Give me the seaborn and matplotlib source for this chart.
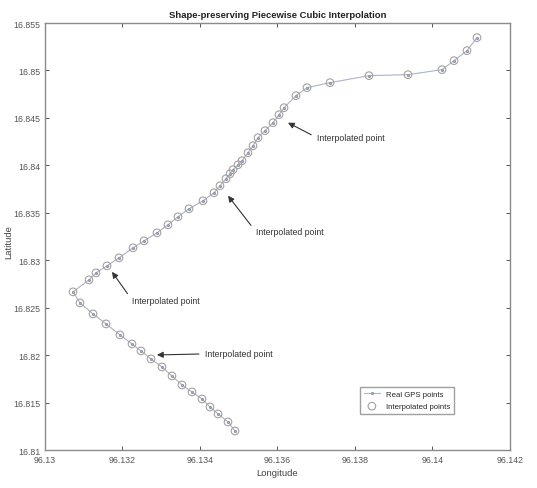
import numpy as np
import pandas as pd
import matplotlib
matplotlib.use("Agg")
import matplotlib.pyplot as plt
import seaborn as sns

sns.set_theme(style="white")
plt.rcParams['font.family'] = ['Liberation Sans Narrow', 'Liberation Sans', 'DejaVu Sans']
plt.rcParams['xtick.direction'] = 'in'
plt.rcParams['ytick.direction'] = 'in'

# GPS track (south end -> apex -> north-east end)
longitude = [96.134903, 96.134723, 96.134465, 96.134258, 96.134052, 96.133794,
             96.133535, 96.133277, 96.133019, 96.132735, 96.132477, 96.132245,
             96.131935, 96.131574, 96.131239, 96.130903, 96.130723,
             96.131135, 96.131316, 96.131600, 96.131910, 96.132271, 96.132555,
             96.132890, 96.133174, 96.133432, 96.133716, 96.134077, 96.134361,
             96.134516, 96.134671, 96.134774, 96.134852, 96.134981, 96.135084,
             96.135239, 96.135368, 96.135497, 96.135677, 96.135884, 96.136039,
             96.136168, 96.136477, 96.136761, 96.137355, 96.138361, 96.139368,
             96.140245, 96.140555, 96.140890, 96.141148]
latitude = [16.812004, 16.812954, 16.813797, 16.814536, 16.815380, 16.816118,
            16.816857, 16.817806, 16.818755, 16.819599, 16.820443, 16.821181,
            16.822131, 16.823291, 16.824346, 16.825506, 16.826667,
            16.827932, 16.828671, 16.829409, 16.830253, 16.831308, 16.832046,
            16.832890, 16.833734, 16.834578, 16.835422, 16.836266, 16.837110,
            16.837848, 16.838586, 16.839114, 16.839536, 16.840063, 16.840485,
            16.841329, 16.842068, 16.842911, 16.843650, 16.844494, 16.845338,
            16.846076, 16.847342, 16.848186, 16.848713, 16.849451, 16.849557,
            16.850084, 16.851034, 16.852089, 16.853460]

# annotations: arrow tip and text anchor
note_tips = [(96.136271, 16.844494), (96.134723, 16.836793),
             (96.131729, 16.828776), (96.132890, 16.820021)]
note_texts = [(96.137019, 16.842911), (96.135445, 16.832996),
              (96.132255, 16.825750), (96.134129, 16.820127)]
note_label = "Interpolated point"

x_ticks = [96.13, 96.132, 96.134, 96.136, 96.138, 96.14, 96.142]
x_tick_labels = ["96.13", "96.132", "96.134", "96.136", "96.138", "96.14", "96.142"]
y_ticks = [16.81, 16.815, 16.82, 16.825, 16.83, 16.835, 16.84, 16.845, 16.85, 16.855]
y_tick_labels = ["16.81", "16.815", "16.82", "16.825", "16.83", "16.835", "16.84",
                 "16.845", "16.85", "16.855"]

track = pd.DataFrame({"lon": longitude, "lat": latitude})

fig = plt.figure(figsize=(5.37, 4.89), dpi=100)
ax = fig.add_axes([0.0838, 0.0777, 0.8659, 0.8732])

sns.lineplot(data=track, x="lon", y="lat", sort=False, estimator=None, ax=ax,
             color="#a8b4c8", linewidth=0.8, marker=".", markersize=3,
             markeredgecolor="#8a98b0", label="Real GPS points")
sns.scatterplot(data=track, x="lon", y="lat", ax=ax, marker="o", s=30,
                facecolor="none", edgecolor="#a8a09c", linewidth=0.8,
                label="Interpolated points", zorder=3)

for (tx, ty), (lx, ly) in zip(note_tips, note_texts):
    ax.annotate(note_label, xy=(tx, ty), xytext=(lx, ly), fontsize=6.3,
                color="#333333", ha="left", va="center",
                arrowprops=dict(arrowstyle="-|>", color="#333333", lw=0.8,
                                mutation_scale=9, shrinkA=2, shrinkB=0,
                                relpos=(0.0, 0.5)))

ax.set_xlim(96.13, 96.142)
ax.set_ylim(16.81, 16.855)
ax.set_xticks(x_ticks)
ax.set_xticklabels(x_tick_labels)
ax.set_yticks(y_ticks)
ax.set_yticklabels(y_tick_labels)
ax.tick_params(labelsize=6.3, colors="#555555", length=3, width=0.7,
               top=True, right=True, bottom=True, left=True)
for side in ax.spines.values():
    side.set_color("#8a8a8a")
    side.set_linewidth(1.0)

ax.set_title("Shape-preserving Piecewise Cubic Interpolation", fontsize=6.8,
             fontweight="bold", color="#222222", pad=4)
ax.set_xlabel("Longitude", fontsize=6.8, color="#444444", labelpad=3)
ax.set_ylabel("Latitude", fontsize=6.8, color="#444444")
ax.yaxis.set_label_coords(-0.068, 0.49)

ax.legend(loc="lower right", bbox_to_anchor=(0.888, 0.075), fontsize=5.6,
          frameon=True, edgecolor="#888888", fancybox=False,
          handlelength=2.0, borderpad=0.5, labelspacing=0.6)

fig.savefig("out.png", dpi=100)
